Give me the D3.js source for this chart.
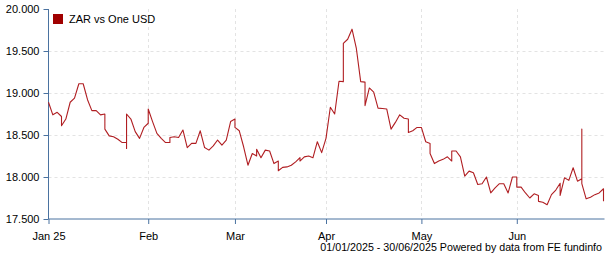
<!DOCTYPE html>
<html>
<head>
<meta charset="utf-8">
<script src="https://cdn.jsdelivr.net/npm/d3@7"></script>
<style>
  body { margin: 0; background: #fff; }
  text { font-family: "Liberation Sans", Arial, sans-serif; font-size: 11px; fill: #000; }
</style>
</head>
<body>
<svg id="chart" width="605" height="260"></svg>
<script>
const seriesName = "ZAR vs One USD";
const footerText = "01/01/2025 - 30/06/2025 Powered by data from FE fundinfo";
const yTicks = [17.5, 18, 18.5, 19, 19.5, 20];
const monthLabels = ["Jan 25", "Feb", "Mar", "Apr", "May", "Jun"];

// one entry per trading day, an inner list where the feed gives several quotes on that day
const rates = [
  18.89, 18.74, 18.77, [18.72, 18.61], 18.69, 18.89, 18.94, 19.11, 19.11, 18.92,
  18.79, 18.79, 18.74, [18.75, 18.57], 18.49, 18.48, 18.45, 18.41, [18.41, 18.34, 18.75], 18.69,
  18.54, 18.46, 18.59, [18.64, 18.81], 18.66, 18.52, 18.46, 18.41, [18.41, 18.47], 18.48,
  18.47, 18.56, 18.35, 18.40, 18.40, 18.55, 18.35, 18.32, 18.37, 18.44,
  18.38, 18.44, 18.66, [18.69, 18.59], 18.55, 18.36, 18.14, 18.28, [18.25, 18.33], 18.23,
  18.32, 18.31, 18.16, [18.19, 18.075], 18.115, 18.12, 18.14, 18.18, [18.23, 18.19], 18.24,
  18.25, 18.23, 18.42, 18.29, 18.46, 18.83, 18.75, 19.14, [19.135, 19.59], 19.64,
  19.76, 19.53, 19.135, [19.13, 18.85], 19.06, 19.01, 18.82, 18.815, 18.81, 18.57,
  18.65, 18.74, 18.70, [18.69, 18.53], 18.55, 18.59, 18.59, 18.42, [18.40, 18.28], 18.16,
  18.19, 18.21, 18.24, [18.19, 18.31], 18.31, 18.24, 18.01, 18.07, 18.05, 17.91,
  17.92, 18.00, 17.81, 17.87, 17.92, 17.92, 17.81, 18.00, [18.00, 17.88], 17.88,
  17.81, 17.75, 17.80, [17.78, 17.71], 17.70, 17.67, 17.79, 17.845, [17.925, 17.78], 17.99,
  17.96, 18.11, 17.95, [17.98, 18.57, 17.92], 17.74, 17.76, 17.79, 17.81, [17.86, 17.71]
];

// trading days (weekdays) of the period
const tradingDays = d3.utcDays(new Date(Date.UTC(2025, 0, 1)), new Date(Date.UTC(2025, 6, 1)))
  .filter(d => d.getUTCDay() !== 0 && d.getUTCDay() !== 6);

const points = [];
rates.forEach((r, i) => {
  [].concat(r).forEach(v => points.push({ i: i, v: v }));
});

const plotLeft = 48.5, plotRight = 603.5, plotTop = 9, plotBottom = 219;
const axisColor = "#4a72a0";
const lineColor = "#b01e22";

const svg = d3.select("#chart");

const x = d3.scaleLinear().domain([0, tradingDays.length - 1]).range([plotLeft, plotRight]);
const y = d3.scaleLinear().domain([17.5, 20]).range([plotBottom, plotTop]);

// first trading day of each month
const monthTicks = monthLabels.map((label, m) => ({
  label: label,
  i: tradingDays.findIndex(d => d.getUTCMonth() === m)
}));

// grid
svg.append("g")
  .selectAll("line")
  .data(yTicks.filter(t => t > 17.5 && t < 20))
  .join("line")
  .attr("x1", plotLeft).attr("x2", plotRight)
  .attr("y1", d => Math.round(y(d)) + 0.5).attr("y2", d => Math.round(y(d)) + 0.5)
  .attr("stroke", "#e3e3e3").attr("stroke-dasharray", "3,3");

svg.append("g")
  .selectAll("line")
  .data(monthTicks.slice(1))
  .join("line")
  .attr("x1", d => Math.round(x(d.i)) + 0.5).attr("x2", d => Math.round(x(d.i)) + 0.5)
  .attr("y1", plotTop).attr("y2", plotBottom)
  .attr("stroke", "#e3e3e3").attr("stroke-dasharray", "3,3");

// y axis
const yAxis = d3.axisLeft(y)
  .tickValues(yTicks)
  .tickFormat(d3.format(".3f"))
  .tickSize(5)
  .tickPadding(4);
const yg = svg.append("g").attr("transform", "translate(" + plotLeft + ",0)").call(yAxis);
yg.select(".domain").attr("stroke", axisColor).attr("d", "M0," + plotTop + "V" + plotBottom);
yg.selectAll(".tick line").attr("stroke", axisColor);
yg.selectAll(".tick text").style("font-size", "11px").attr("fill", "#000");

// x axis
const xAxis = d3.axisBottom(x)
  .tickValues(monthTicks.map(d => d.i))
  .tickFormat((d, k) => monthTicks[k].label)
  .tickSize(5)
  .tickPadding(8);
const xg = svg.append("g").attr("transform", "translate(0," + plotBottom + ")").call(xAxis);
xg.select(".domain").attr("stroke", axisColor).attr("d", "M" + plotLeft + ",0H" + (plotRight + 1));
xg.selectAll(".tick line").attr("stroke", axisColor);
xg.selectAll(".tick text").style("font-size", "11px").attr("fill", "#000");

// line
const line = d3.line()
  .x(d => x(d.i))
  .y(d => y(d.v));

svg.append("path")
  .datum(points)
  .attr("fill", "none")
  .attr("stroke", lineColor)
  .attr("stroke-width", 1.1)
  .attr("stroke-linejoin", "round")
  .attr("d", line);

// legend
svg.append("rect")
  .attr("x", 53).attr("y", 14).attr("width", 10).attr("height", 10)
  .attr("fill", "#a00000");
svg.append("text")
  .attr("x", 69).attr("y", 23)
  .text(seriesName);

// footer
svg.append("text")
  .attr("x", 602).attr("y", 251)
  .attr("text-anchor", "end")
  .style("font-size", "10.7px")
  .text(footerText);
</script>
</body>
</html>
